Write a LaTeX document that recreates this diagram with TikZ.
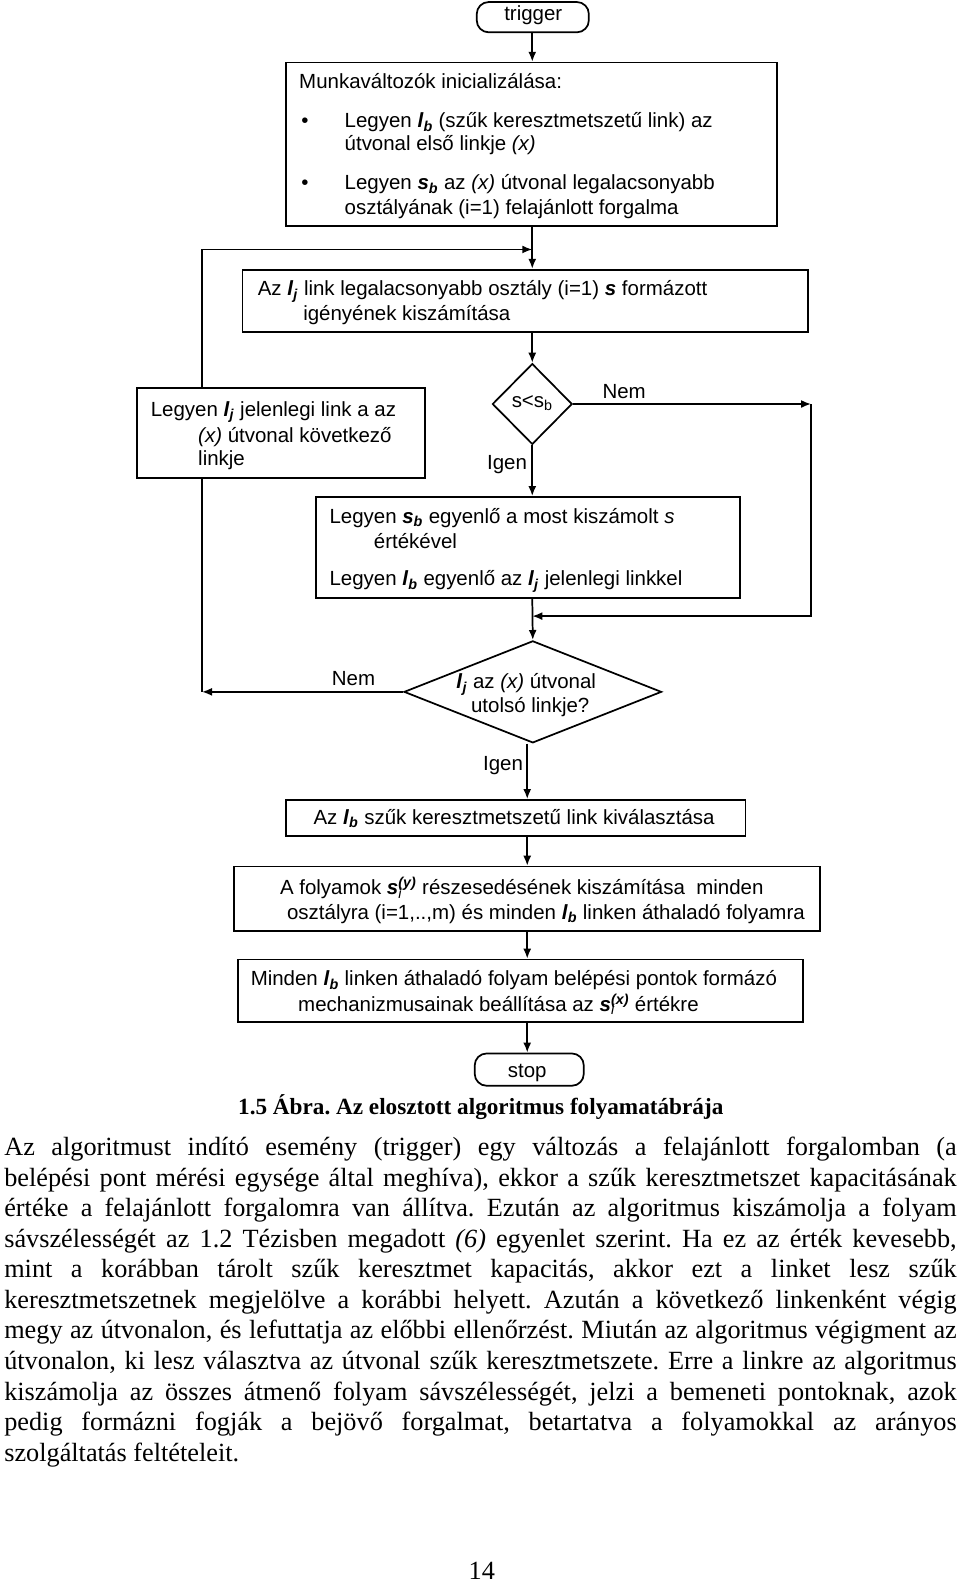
\documentclass[tikz,border=0pt]{standalone}
\usepackage{fontspec}
\setmainfont{Liberation Serif}
\newfontfamily\arialfam{Liberation Sans}
\usetikzlibrary{shapes.geometric,arrows.meta}
\newcommand\pxu{0.7575pt}
\newcommand\flowfont{\arialfam\fontsize{15.35}{18.2}\selectfont}
\newcommand\bodyfont{\fontsize{19.7}{22.93}\selectfont}
\newcommand\capfont{\fontsize{17.4}{20}\selectfont}
\newcommand\bvar[2]{\textbf{\textit{#1}}\textsubscript{\textbf{\textit{#2}}}}
\newcommand\svar[1]{\textbf{\textit{s}}\rlap{\textsubscript{\textit{i}}}\textsuperscript{\textbf{\textit{#1}}}}
\newcommand\bline[1]{\makebox[\linewidth][s]{#1}\\}
\frenchspacing
\begin{document}
\begin{tikzpicture}[x=0.7575pt,y=-0.7575pt,
  ln/.style={line width=1.3pt},
  arr/.style={ln,-{Latex[length=7.5pt,width=6pt]}},
  box/.style={draw,ln,rectangle,inner sep=0pt},
  term/.style={box,rounded corners=9pt},
  dia/.style={draw,ln,diamond,inner sep=0pt},
  ft/.style={font=\flowfont,inner sep=0pt},
  lbl/.style={ft,anchor=base west},
  clbl/.style={ft,anchor=base}]
\useasboundingbox (0,0) rectangle (950.5,1568.3);
% axes
\coordinate (axt) at (527,0);
\coordinate (axb) at (522,0);
\coordinate (lx) at (200,0);
\coordinate (rx) at (803,0);
\coordinate (loop) at (527,247);
\coordinate (join) at (527,610);
% shapes
\node[term,minimum width=111*\pxu,minimum height=30*\pxu] (trigger) at (527.5,17) {};
\node[box,minimum width=486*\pxu,minimum height=162*\pxu] (b1) at (526,143) {};
\node[box,minimum width=560*\pxu,minimum height=62*\pxu] (b2) at (520,298) {};
\node[dia,minimum width=79*\pxu,minimum height=80*\pxu] (d1) at (527,400) {};
\node[box,minimum width=285*\pxu,minimum height=89*\pxu] (b3) at (278.5,428.5) {};
\node[box,minimum width=420*\pxu,minimum height=100*\pxu] (b4) at (523,542) {};
\node[dia,minimum width=255*\pxu,minimum height=101*\pxu] (d2) at (527.5,685) {};
\node[box,minimum width=455*\pxu,minimum height=36*\pxu] (b5) at (510.5,810) {};
\node[box,minimum width=580*\pxu,minimum height=64*\pxu] (b6) at (522,890) {};
\node[box,minimum width=559*\pxu,minimum height=62*\pxu] (b7) at (515.5,981) {};
\node[term,minimum width=108*\pxu,minimum height=32*\pxu] (stop) at (524,1059) {};
% texts
\node[ft] (ttrig) at (528,15) {trigger};
\node[lbl] (t1a) at (296,88) {Munkaváltozók inicializálása:};
\node[lbl] (t1b) at (298,126) {•};
\node[lbl] (t1c) at (341,126) {Legyen \bvar{l}{b} (szűk keresztmetszetű link) az};
\node[lbl] (t1d) at (341,149) {útvonal első linkje \textit{(x)}};
\node[lbl] (t1e) at (298,188) {•};
\node[lbl] (t1f) at (341,188) {Legyen \bvar{s}{b} az \textit{(x)} útvonal legalacsonyabb};
\node[lbl] (t1g) at (341,212) {osztályának (i=1) felajánlott forgalma};
\node[lbl] (t2a) at (255,293) {Az \bvar{l}{j} link legalacsonyabb osztály (i=1) \textbf{\textit{s}} formázott};
\node[lbl] (t2b) at (300,317) {igényének kiszámítása};
\node[ft] (td1) at (527,399) {s<s\textsubscript{b}};
\node[lbl] (t3a) at (149,412) {Legyen \bvar{l}{j} jelenlegi link a az};
\node[lbl] (t3b) at (196,438) {\textit{(x)} útvonal következő};
\node[lbl] (t3c) at (196,461) {linkje};
\node[lbl] (t4a) at (326,518) {Legyen \bvar{s}{b} egyenlő a most kiszámolt \textit{s}};
\node[lbl] (t4b) at (370,543) {értékével};
\node[lbl] (t4c) at (326,580) {Legyen \bvar{l}{b} egyenlő az \bvar{l}{j} jelenlegi linkkel};
\node[clbl] (td2a) at (521,682) {\bvar{l}{j} az \textit{(x)} útvonal};
\node[clbl] (td2b) at (525,705) {utolsó linkje?};
\node[clbl] (t5) at (509,816) {Az \bvar{l}{b} szűk keresztmetszetű link kiválasztása};
\node[lbl] (t6a) at (277,886) {A folyamok \svar{(y)} részesedésének kiszámítása\ \ minden};
\node[lbl] (t6b) at (284,910) {osztályra (i=1,..,m) és minden \bvar{l}{b} linken áthaladó folyamra};
\node[lbl] (t7a) at (248,976) {Minden \bvar{l}{b} linken áthaladó folyam belépési pontok formázó};
\node[lbl] (t7b) at (295,1001) {mechanizmusainak beállítása az \svar{(x)} értékre};
\node[ft] (tstop) at (522,1062) {stop};
% labels
\node[ft] (nem1) at (618,388) {Nem};
\node[ft] (igen1) at (502,460) {Igen};
\node[ft] (nem2) at (350,672) {Nem};
\node[ft] (igen2) at (498,758) {Igen};
% connectors
\draw[arr] (trigger.south -| axt) -- (b1.north -| axt);
\draw[arr] (b1.south -| axt) -- (b2.north -| axt);
\draw[arr] (b3.north -| lx) |- (loop);
\draw[arr] (b2.south -| axt) -- (d1.north);
\draw[arr] (d1.east) -- (d1.east -| rx);
\draw[arr] (d1.east -| rx) |- (join);
\draw[arr] (d1.south) -- (b4.north -| axt);
\draw[arr] (b4.south -| axt) -- (d2.north);
\draw[arr] (d2.west) -- (d2.west -| lx);
\draw[ln] (d2.west -| lx) -- (b3.south -| lx);
\draw[arr] (d2.south -| axb) -- (b5.north -| axb);
\draw[arr] (b5.south -| axb) -- (b6.north -| axb);
\draw[arr] (b6.south -| axb) -- (b7.north -| axb);
\draw[arr] (b7.south -| axb) -- (stop.north -| axb);
% caption and body
\node[anchor=base,inner sep=0pt,font=\capfont\bfseries] (cap) at (476,1103) {1.5 Ábra. Az elosztott algoritmus folyamatábrája};
\node[anchor=base west,inner sep=0pt] (body) at (4,1144) {\parbox[t]{714.3pt}{\bodyfont\setlength{\parindent}{0pt}%
\bline{Az algoritmust indító esemény (trigger) egy változás a felajánlott forgalomban (a}
\bline{belépési pont mérési egysége által meghíva), ekkor a szűk keresztmetszet kapacitásának}
\bline{értéke a felajánlott forgalomra van állítva. Ezután az algoritmus kiszámolja a folyam}
\bline{sávszélességét az 1.2 Tézisben megadott \textit{(6)} egyenlet szerint. Ha ez az érték kevesebb,}
\bline{mint a korábban tárolt szűk keresztmet kapacitás, akkor ezt a linket lesz szűk}
\bline{keresztmetszetnek megjelölve a korábbi helyett. Azután a következő linkenként végig}
\bline{megy az útvonalon, és lefuttatja az előbbi ellenőrzést. Miután az algoritmus végigment az}
\bline{útvonalon, ki lesz választva az útvonal szűk keresztmetszete. Erre a linkre az algoritmus}
\bline{kiszámolja az összes átmenő folyam sávszélességét, jelzi a bemeneti pontoknak, azok}
\bline{pedig formázni fogják a bejövő forgalmat, betartatva a folyamokkal az arányos}
szolgáltatás feltételeit.}};
\node[anchor=base,inner sep=0pt,font=\bodyfont] (pg) at (477,1564) {14};
\end{tikzpicture}
\end{document}
